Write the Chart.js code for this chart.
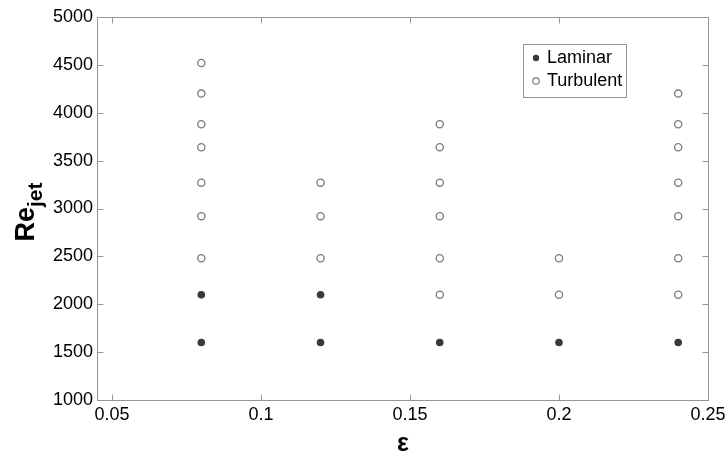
<!DOCTYPE html>
<html>
<head>
<meta charset="utf-8">
<script src="https://cdn.jsdelivr.net/npm/chart.js@4/dist/chart.umd.min.js"></script>
<style>
html,body{margin:0;padding:0;background:#fff;}
#wrap{width:728px;height:455px;position:relative;}
</style>
</head>
<body>
<div id="wrap"><canvas id="c" width="728" height="455"></canvas></div>
<script>
// Data
const laminarX = [0.08, 0.08, 0.12, 0.12, 0.16, 0.20, 0.24];
const laminarY = [1600, 2100, 1600, 2100, 1600, 1600, 1600];

const turbulentX = [
  0.08, 0.08, 0.08, 0.08, 0.08, 0.08, 0.08,
  0.12, 0.12, 0.12,
  0.16, 0.16, 0.16, 0.16, 0.16, 0.16,
  0.20, 0.20,
  0.24, 0.24, 0.24, 0.24, 0.24, 0.24, 0.24
];
const turbulentY = [
  2480, 2920, 3270, 3640, 3880, 4200, 4520,
  2480, 2920, 3270,
  2100, 2480, 2920, 3270, 3640, 3880,
  2100, 2480,
  2100, 2480, 2920, 3270, 3640, 3880, 4200
];

const seriesNames = ['Laminar', 'Turbulent'];
const xTicks = [0.05, 0.1, 0.15, 0.2, 0.25];
const yTicks = [1000, 1500, 2000, 2500, 3000, 3500, 4000, 4500, 5000];
const xRange = [0.045, 0.25];
const yRange = [1000, 5000];
const xTitle = 'ε';
const yTitleMain = 'Re';
const yTitleSub = 'jet';

const toPts = (xs, ys) => xs.map((x, i) => ({x: x, y: ys[i]}));

const FONT = '"Liberation Sans", Arial, sans-serif';
const AXIS_COLOR = '#969696';

const decorPlugin = {
  id: 'decor',
  afterDraw(chart) {
    const ctx = chart.ctx;
    const a = chart.chartArea;
    const xs = chart.scales.x, ys = chart.scales.y;
    ctx.save();
    // box
    ctx.strokeStyle = AXIS_COLOR;
    ctx.lineWidth = 1;
    const L = Math.round(a.left) + 0.5, T = Math.round(a.top) + 0.5;
    const R = Math.round(a.right) + 0.5, B = Math.round(a.bottom) + 0.5;
    ctx.strokeRect(L, T, R - L, B - T);
    // inward ticks on all sides
    const tl = 6;
    ctx.beginPath();
    xTicks.forEach(v => {
      const px = Math.round(xs.getPixelForValue(v)) + 0.5;
      ctx.moveTo(px, B); ctx.lineTo(px, B - tl);
      ctx.moveTo(px, T); ctx.lineTo(px, T + tl);
    });
    yTicks.forEach(v => {
      const py = Math.round(ys.getPixelForValue(v)) + 0.5;
      ctx.moveTo(L, py); ctx.lineTo(L + tl, py);
      ctx.moveTo(R, py); ctx.lineTo(R - tl, py);
    });
    ctx.stroke();

    // x title
    ctx.fillStyle = '#000';
    ctx.font = 'bold 25px ' + FONT;
    ctx.textAlign = 'center';
    ctx.textBaseline = 'middle';
    ctx.fillText(xTitle, xs.getPixelForValue(0.15) - 7, 444);

    // y title rotated with subscript
    ctx.translate(24, 212);
    ctx.rotate(-Math.PI / 2);
    ctx.textAlign = 'left';
    ctx.textBaseline = 'alphabetic';
    ctx.font = 'bold 27px ' + FONT;
    const w1 = ctx.measureText(yTitleMain).width;
    ctx.font = 'bold 21px ' + FONT;
    const w2 = ctx.measureText(yTitleSub).width;
    const start = -(w1 + w2) / 2;
    ctx.font = 'bold 27px ' + FONT;
    ctx.fillText(yTitleMain, start, 10);
    ctx.font = 'bold 21px ' + FONT;
    ctx.fillText(yTitleSub, start + w1, 18);
    ctx.setTransform(1, 0, 0, 1, 0, 0);

    // legend box
    const lx = 523, ly = 44, lw = 103, lh = 53;
    ctx.fillStyle = '#fff';
    ctx.fillRect(lx, ly, lw, lh);
    ctx.strokeStyle = AXIS_COLOR;
    ctx.lineWidth = 1;
    ctx.strokeRect(lx + 0.5, ly + 0.5, lw, lh);
    ctx.font = '18px ' + FONT;
    ctx.textAlign = 'left';
    ctx.textBaseline = 'middle';
    // laminar
    ctx.beginPath();
    ctx.arc(536, 58, 3.2, 0, Math.PI * 2);
    ctx.fillStyle = '#3a3a3a';
    ctx.fill();
    ctx.fillStyle = '#000';
    ctx.fillText(seriesNames[0], 547, 58);
    // turbulent
    ctx.beginPath();
    ctx.arc(536, 81, 3.2, 0, Math.PI * 2);
    ctx.fillStyle = '#fff';
    ctx.fill();
    ctx.strokeStyle = '#7a7a7a';
    ctx.lineWidth = 1.2;
    ctx.stroke();
    ctx.fillStyle = '#000';
    ctx.fillText(seriesNames[1], 547, 81);
    ctx.restore();
  }
};

new Chart(document.getElementById('c'), {
  type: 'scatter',
  data: {
    datasets: [
      {
        label: seriesNames[0],
        data: toPts(laminarX, laminarY),
        pointRadius: 3.8,
        pointBackgroundColor: '#3a3a3a',
        pointBorderColor: '#3a3a3a',
        pointBorderWidth: 0,
        pointHoverRadius: 3.8
      },
      {
        label: seriesNames[1],
        data: toPts(turbulentX, turbulentY),
        pointRadius: 3.6,
        pointBackgroundColor: '#ffffff',
        pointBorderColor: '#7a7a7a',
        pointBorderWidth: 1.3,
        pointHoverRadius: 3.6
      }
    ]
  },
  options: {
    responsive: false,
    animation: false,
    layout: { padding: { top: 17, right: 20, left: 0, bottom: 0 } },
    plugins: {
      legend: { display: false },
      tooltip: { enabled: false }
    },
    scales: {
      x: {
        type: 'linear',
        min: xRange[0], max: xRange[1],
        afterBuildTicks: s => { s.ticks = xTicks.map(v => ({value: v})); },
        afterFit: s => { s.height = 55; s.paddingLeft = 0; s.paddingRight = 0; },
        grid: { display: false, drawTicks: false },
        border: { display: false },
        ticks: {
          color: '#000',
          font: { family: FONT, size: 18 },
          padding: 4,
          maxRotation: 0,
          autoSkip: false,
          callback: v => String(Math.round(v * 100) / 100)
        }
      },
      y: {
        type: 'linear',
        min: yRange[0], max: yRange[1],
        afterBuildTicks: s => { s.ticks = yTicks.map(v => ({value: v})); },
        afterFit: s => { s.width = 97; s.paddingTop = 0; s.paddingBottom = 0; },
        grid: { display: false, drawTicks: false },
        border: { display: false },
        ticks: {
          color: '#000',
          font: { family: FONT, size: 18 },
          padding: 4,
          autoSkip: false,
          callback: v => String(v)
        }
      }
    }
  },
  plugins: [decorPlugin]
});
</script>
</body>
</html>
